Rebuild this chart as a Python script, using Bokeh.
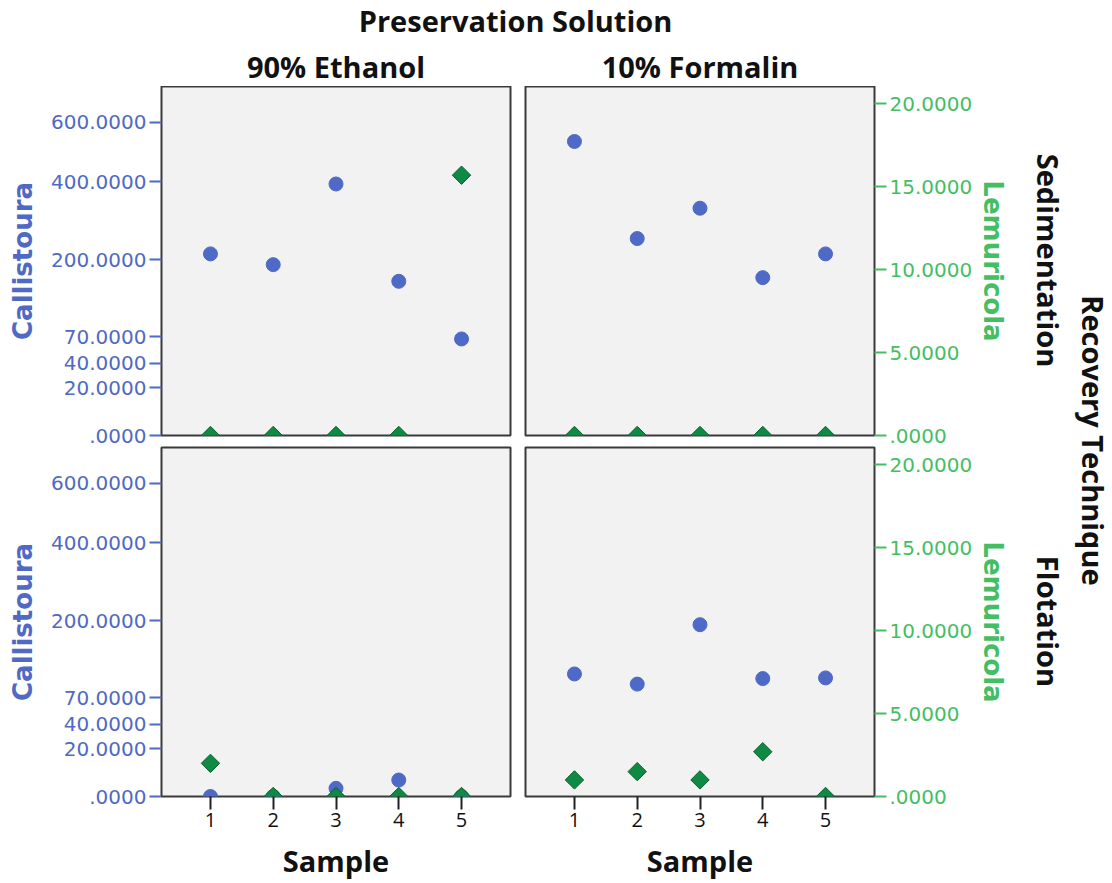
import numpy as np
from math import pi
from bokeh.plotting import figure
from bokeh.models import (Range1d, LinearAxis, FixedTicker, CustomJSTickFormatter,
                          Label, ColumnDataSource)
from bokeh.layouts import gridplot, column, row
from bokeh.embed import file_html
from bokeh.resources import INLINE

# ---------------- data ----------------
samples = [1, 2, 3, 4, 5]
callistoura_sed_ethanol = [213, 190, 394, 157, 67]
callistoura_sed_formalin = [531, 248, 325, 164, 213]
callistoura_flo_ethanol = [0, 0, 1.6, 4, 0]
callistoura_flo_formalin = [103, 88, 192, 96, 97]
lemuricola_sed_ethanol = [0, 0, 0, 0, 15.7]
lemuricola_sed_formalin = [0, 0, 0, 0, 0]
lemuricola_flo_ethanol = [2, 0, 0, 0, 0]
lemuricola_flo_formalin = [1, 1.5, 1, 2.7, 0]

callistoura_ticks = [0, 20, 40, 70, 200, 400, 600]
lemuricola_ticks = [0, 5, 10, 15, 20]
solutions = ["90% Ethanol", "10% Formalin"]
techniques = ["Sedimentation", "Flotation"]

# ---------------- style ----------------
BLUE = "#4E6AC6"
BLUE_TXT = "#5069C4"
GREEN_TXT = "#44BE62"
GREEN = "#0F8A45"
GREEN_EDGE = "#0A5F2F"
PANEL_BG = "#F2F2F2"
FRAME = "#3A3A3A"
TITLE_FONT = "Open Sans"
AXIS_FONT = "DejaVu Sans"
INK = "#111111"

CAL_TOP = 26.19   # top of the (sqrt) Callistoura scale, transformed units
LEM_TOP = 21.05


def tr(v):
    """square-root-like scale used by the source chart"""
    return np.sqrt(np.asarray(v, dtype=float) + 1.0) - 1.0


left_fmt = CustomJSTickFormatter(code="""
const v = Math.round((tick + 1) * (tick + 1) - 1);
return v === 0 ? ".0000" : v.toFixed(4);
""")
right_fmt = CustomJSTickFormatter(code="""
return Math.abs(tick) < 1e-9 ? ".0000" : tick.toFixed(4);
""")


def style_value_axis(ax, label, color):
    ax.axis_label = label
    ax.axis_label_text_font = AXIS_FONT
    ax.axis_label_text_font_size = "26px"
    ax.axis_label_text_font_style = "bold"
    ax.axis_label_text_color = color
    ax.major_label_text_font = AXIS_FONT
    ax.major_label_text_font_size = "20px"
    ax.major_label_text_color = color
    ax.major_label_standoff = 3
    ax.major_tick_out = 12
    ax.major_tick_in = 0
    ax.major_tick_line_color = color
    ax.major_tick_line_width = 2
    ax.minor_tick_line_color = None
    ax.axis_line_color = None


def make_panel(ci, ri, cal, lem):
    left = ci == 0
    bottom = ri == 1
    fig = figure(
        frame_width=349, frame_height=349,
        x_range=Range1d(0.22, 5.78), y_range=Range1d(0, CAL_TOP),
        x_axis_location="below" if bottom else None,
        y_axis_location="left" if left else None,
        toolbar_location=None, output_backend="svg",
        min_border_left=161 if left else 8,
        min_border_right=7 if left else 146,
        min_border_top=0 if ri == 0 else 1,
        min_border_bottom=87 if bottom else 11,
        background_fill_color=PANEL_BG, border_fill_color="white",
        outline_line_color=FRAME, outline_line_width=2,
    )
    fig.extra_y_ranges = {"lem": Range1d(0, LEM_TOP)}
    fig.xgrid.visible = False
    fig.ygrid.visible = False

    if left:
        ax = fig.yaxis[0]
        ax.ticker = FixedTicker(ticks=[float(t) for t in tr(callistoura_ticks)])
        ax.formatter = left_fmt
        style_value_axis(ax, "Callistoura", BLUE_TXT)
        ax.major_tick_line_color = BLUE
        ax.axis_label_standoff = 10
    else:
        rax = LinearAxis(y_range_name="lem",
                         ticker=FixedTicker(ticks=lemuricola_ticks),
                         formatter=right_fmt)
        style_value_axis(rax, "Lemuricola", GREEN_TXT)
        rax.axis_label_standoff = 3
        fig.add_layout(rax, "right")

    if bottom:
        xa = fig.xaxis[0]
        xa.ticker = FixedTicker(ticks=samples)
        xa.axis_label = "Sample"
        xa.axis_label_text_font = TITLE_FONT
        xa.axis_label_text_font_size = "29px"
        xa.axis_label_text_font_style = "bold"
        xa.axis_label_text_color = INK
        xa.axis_label_standoff = 11
        xa.major_label_text_font = TITLE_FONT
        xa.major_label_text_font_size = "20px"
        xa.major_label_text_color = INK
        xa.major_label_standoff = 3
        xa.major_tick_out = 13
        xa.major_tick_in = 0
        xa.major_tick_line_color = "#222222"
        xa.major_tick_line_width = 2
        xa.minor_tick_line_color = None
        xa.axis_line_color = None

    src = ColumnDataSource(dict(sample=samples, cal=tr(cal), lem=lem))
    fig.scatter("sample", "cal", source=src, marker="circle", size=14,
                fill_color=BLUE, line_color=BLUE)
    fig.scatter("sample", "lem", source=src, y_range_name="lem",
                marker="square", angle=pi / 4, size=13,
                fill_color=GREEN, line_color=GREEN_EDGE, line_width=1)
    return fig


tl = make_panel(0, 0, callistoura_sed_ethanol, lemuricola_sed_ethanol)
tr_ = make_panel(1, 0, callistoura_sed_formalin, lemuricola_sed_formalin)
bl = make_panel(0, 1, callistoura_flo_ethanol, lemuricola_flo_ethanol)
br = make_panel(1, 1, callistoura_flo_formalin, lemuricola_flo_formalin)

grid = gridplot([[tl, tr_], [bl, br]], toolbar_location=None)


def text_label(x, y, text, angle=0.0):
    return Label(x=x, y=y, text=text, angle=angle, text_align="center",
                 text_baseline="middle", text_font=TITLE_FONT,
                 text_font_size="29px", text_font_style="bold", text_color=INK)


# header: facet-column variable name and its two levels (pixel-like ranges)
header = figure(width=1020, height=86, x_range=Range1d(0, 1020), y_range=Range1d(0, 86),
                x_axis_location=None, y_axis_location=None, toolbar_location=None,
                output_backend="svg", min_border=0, outline_line_color=None,
                background_fill_color="white", border_fill_color="white")
header.grid.visible = False
header.add_layout(text_label(515, 66, "Preservation Solution"))
header.add_layout(text_label(335.5, 20, solutions[0]))
header.add_layout(text_label(699.5, 20, solutions[1]))

# right strip: facet-row variable name and its two levels
strip = figure(width=92, height=883, x_range=Range1d(0, 92), y_range=Range1d(0, 883),
               x_axis_location=None, y_axis_location=None, toolbar_location=None,
               output_backend="svg", min_border=0, outline_line_color=None,
               background_fill_color="white", border_fill_color="white")
strip.grid.visible = False
strip.add_layout(text_label(28, 623, techniques[0], -pi / 2))
strip.add_layout(text_label(28, 262, techniques[1], -pi / 2))
strip.add_layout(text_label(73, 443, "Recovery Technique", -pi / 2))

layout = row(column(header, grid), strip)

open("out.html", "w").write(file_html(layout, INLINE))
